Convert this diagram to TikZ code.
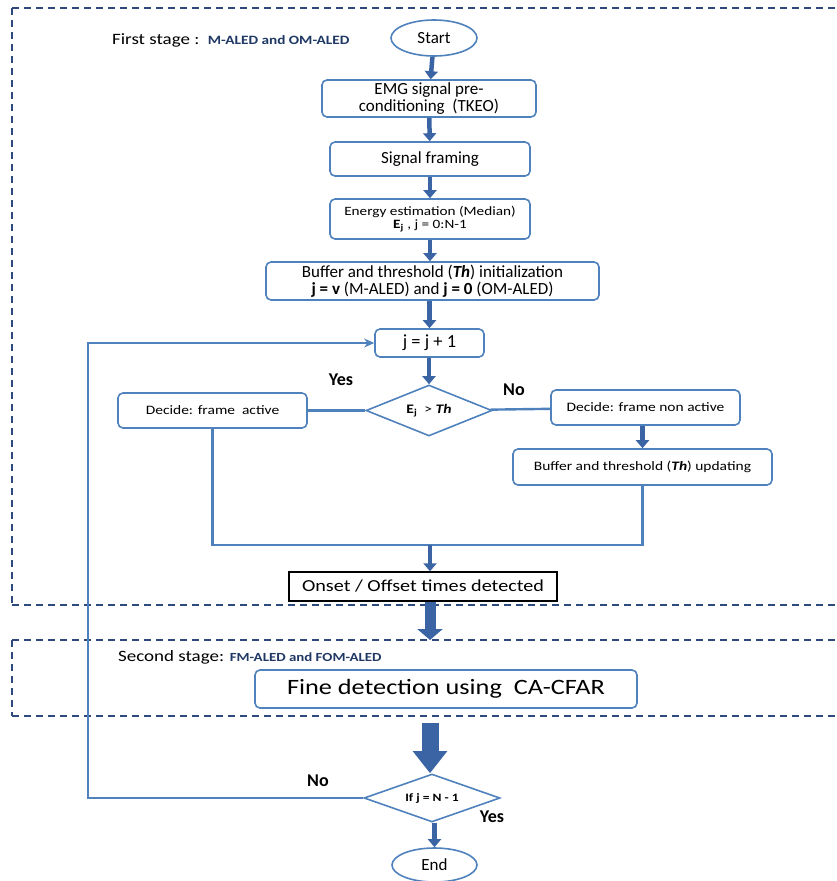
\documentclass[tikz,border=0pt]{standalone}
\usepackage{fontspec}
\setmainfont{Carlito}
\newfontfamily\widefont[FakeStretch=1.2]{Carlito}
\usetikzlibrary{arrows.meta,shapes.geometric}
\definecolor{boxblue}{HTML}{4F81BD}
\definecolor{arrowblue}{HTML}{3A64A4}
\definecolor{dashblue}{HTML}{2E4A7D}
\definecolor{labelblue}{HTML}{1F3864}
\newcommand{\fs}[1]{\fontsize{#1}{#1}\selectfont}
\begin{document}
\begin{tikzpicture}[x=1pt,y=-1pt,
            every node/.style={font=\fs{17}, inner sep=1pt},
            procbox/.style={rectangle, draw=boxblue, line width=1.6pt, rounded corners=5pt, align=center},
            smallbox/.style={procbox, font=\widefont\fs{12.9}},
            termbox/.style={ellipse, draw=boxblue, line width=1.6pt},
            testbox/.style={diamond, draw=boxblue, line width=1.6pt, inner sep=0pt, aspect=2.5},
            link/.style={draw=boxblue, line width=2.4pt},
            flow/.style={draw=arrowblue, line width=4.5pt, -{Triangle[width=13pt,length=8pt]}},
            stageline/.style={draw=dashblue, line width=1.5pt, dash pattern=on 7pt off 5pt},
            answer/.style={font=\fs{18}\bfseries}
        ]
        \useasboundingbox (0,0) rectangle (836,881);

        % stage frames
        \draw[stageline] (12,8) -- (836,8);
        \draw[stageline] (12,8) -- (12,605);
        \draw[stageline] (12,605) -- (836,605);
        \draw[stageline] (12,640) -- (836,640);
        \draw[stageline] (12,640) -- (12,716);
        \draw[stageline] (12,716) -- (836,716);

        \node[anchor=west, font=\widefont\fs{15.8}] (stage1) at (111,40) {First stage :\ \ {\color{labelblue}\bfseries\fs{12.7}M-ALED and OM-ALED}};
        \node[anchor=west, font=\widefont\fs{15.8}] (stage2) at (117,657) {Second stage: {\color{labelblue}\bfseries\fs{12.4}FM-ALED and FOM-ALED}};

        % first stage
        \node[termbox, minimum width=86pt, minimum height=36pt] (start) at (434,38) {Start};
        \node[procbox, minimum width=214pt, minimum height=37pt] (emg) at (429,98.5) {EMG signal pre-\\conditioning\ \ (TKEO)};
        \node[procbox, minimum width=200pt, minimum height=34pt] (framing) at (430,159) {Signal framing};
        \node[smallbox, minimum width=200pt, minimum height=40pt, font=\widefont\fs{12.7}] (energy) at (430,219) {Energy estimation (Median)\\\textbf{E\textsubscript{j}} , j = 0:N-1};
        \node[procbox, minimum width=333pt, minimum height=38pt] (init) at (432.5,281) {Buffer and threshold (\textbf{\textit{Th}}) initialization\\\textbf{j = v} (M-ALED) and \textbf{j = 0} (OM-ALED)};
        \node[procbox, minimum width=109pt, minimum height=28pt, font=\fs{18.5}] (next) at (429.5,343) {j = j + 1};
        \node[testbox, minimum width=126pt, minimum height=51pt, font=\widefont\fs{13}] (test) at (429,410.5) {\textbf{E\textsubscript{j}}\ \ > \textbf{\textit{Th}}};
        \node[smallbox, minimum width=189pt, minimum height=35pt] (active) at (212.5,410.5) {Decide: frame\ \ active};
        \node[smallbox, minimum width=189pt, minimum height=35pt] (inactive) at (645.5,407.5) {Decide: frame non active};
        \node[smallbox, minimum width=259pt, minimum height=36pt] (update) at (642.5,467) {Buffer and threshold (\textbf{\textit{Th}}) updating};
        \node[rectangle, draw=black, line width=1.4pt, minimum width=268pt, minimum height=29pt, font=\widefont\fs{16.8}] (onset) at (423,586.5) {Onset / Offset times detected};
        \coordinate (merge) at (430,545);

        \node[answer] (yes1) at (341,380) {Yes};
        \node[answer] (no1) at (514,390) {No};

        % second stage
        \node[procbox, minimum width=382pt, minimum height=38pt, font=\widefont\fs{21.9}] (fine) at (446,689) {Fine detection using\ \ CA-CFAR};
        \node[testbox, minimum width=136pt, minimum height=48pt, font=\widefont\fs{11.3}\bfseries] (check) at (432,798) {If j = N - 1};
        \node[termbox, minimum width=85pt, minimum height=34pt] (end) at (434.5,865) {End};
        \coordinate (loop) at (88,798);

        \node[answer] (no2) at (318,781) {No};
        \node[answer] (yes2) at (492,817) {Yes};

        % connectors
        \draw[flow] (start) -- (emg);
        \draw[flow] (emg) -- (framing);
        \draw[flow] (framing) -- (energy);
        \draw[flow] (energy) -- (init.north -| energy);
        \draw[flow] (init.south -| next) -- (next);
        \draw[flow] (next.south -| test) -- (test);
        \draw[link] (test) -- (active);
        \draw[link] (test) -- (inactive);
        \draw[flow] (inactive.south -| update) -- (update);
        \draw[link] (active.south) |- (merge) -| (update.south);
        \draw[flow] (merge) -- (onset.north -| merge);
        \draw[draw=arrowblue, line width=11pt, -{Triangle[width=25pt,length=11pt]}] (onset.south -| merge) -- (merge |- 0,640);
        \draw[draw=arrowblue, line width=17pt, -{Triangle[width=33pt,length=22pt]}] (fine.south -| merge) ++(0,14) -- (check.north -| merge);
        \draw[link, -{Stealth[length=10pt,width=9pt]}] (check) -- (loop) |- (next);
        \draw[flow] (check.south -| end) -- (end);
    \end{tikzpicture}
\end{document}
